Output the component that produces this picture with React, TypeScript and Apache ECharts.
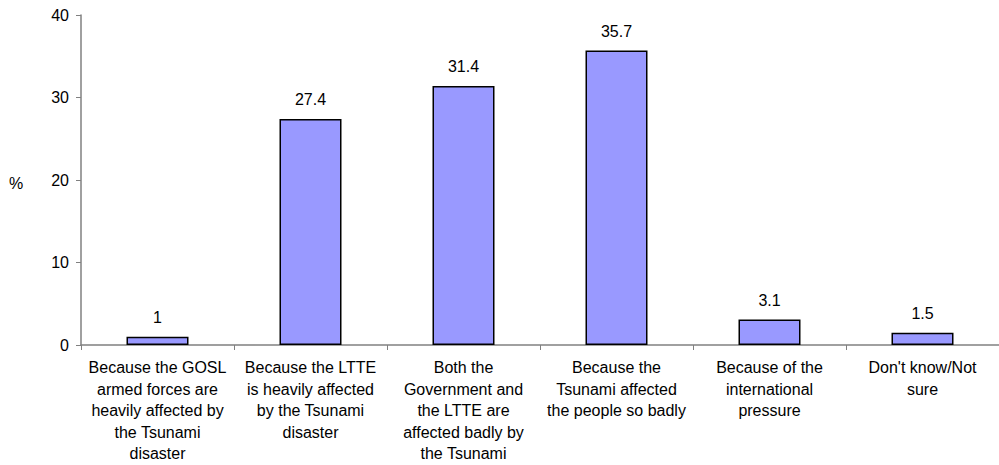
import React, { useEffect, useRef } from "react";
import * as echarts from "echarts";

const categories = [
  "Because the GOSL\narmed forces are\nheavily affected by\nthe Tsunami\ndisaster",
  "Because the LTTE\nis heavily affected\nby the Tsunami\ndisaster",
  "Both the\nGovernment and\nthe LTTE are\naffected badly by\nthe Tsunami",
  "Because the\nTsunami affected\nthe people so badly",
  "Because of the\ninternational\npressure",
  "Don't know/Not\nsure",
];
const values = [1, 27.4, 31.4, 35.7, 3.1, 1.5];
const yMin = 0;
const yMax = 40;
const yInterval = 10;
const yName = "%";

const FONT = "Arial, 'Liberation Sans', sans-serif";

export default function App() {
  const ref = useRef<HTMLDivElement>(null);
  useEffect(() => {
    if (!ref.current) return;
    const chart = echarts.init(ref.current, undefined, { renderer: "svg" });
    chart.setOption({
      animation: false,
      backgroundColor: "#ffffff",
      textStyle: { fontFamily: FONT },
      grid: { left: 81, top: 15, width: 926, height: 330, containLabel: false },
      graphic: [
        {
          type: "text",
          x: 16,
          y: 183,
          style: {
            text: yName,
            fontSize: 16,
            fontFamily: FONT,
            fill: "#000",
            align: "center",
            verticalAlign: "middle",
          },
        },
      ],
      xAxis: {
        type: "category",
        data: categories,
        axisLine: { lineStyle: { color: "#808080", width: 1.5 } },
        axisTick: { show: true, length: 5, lineStyle: { color: "#808080" } },
        axisLabel: {
          interval: 0,
          fontSize: 16,
          lineHeight: 21.5,
          color: "#000",
          fontFamily: FONT,
          margin: 12,
          align: "center",
        },
      },
      yAxis: {
        type: "value",
        min: yMin,
        max: yMax,
        interval: yInterval,
        splitLine: { show: false },
        axisLine: { show: true, lineStyle: { color: "#808080", width: 1.5 } },
        axisTick: { show: true, length: 5, lineStyle: { color: "#808080" } },
        axisLabel: { fontSize: 16, color: "#000", fontFamily: FONT, margin: 12 },
      },
      series: [
        {
          type: "bar",
          data: values,
          barWidth: 62,
          itemStyle: { color: "#9999FF", borderColor: "#000", borderWidth: 1.5 },
          label: {
            show: true,
            position: "top",
            distance: 11,
            fontSize: 16,
            color: "#000",
            fontFamily: FONT,
          },
        },
      ],
    });
    return () => chart.dispose();
  }, []);
  return (
    <div
      ref={ref}
      style={{ position: "absolute", left: 0, top: 0, width: 999, height: 465 }}
    />
  );
}
